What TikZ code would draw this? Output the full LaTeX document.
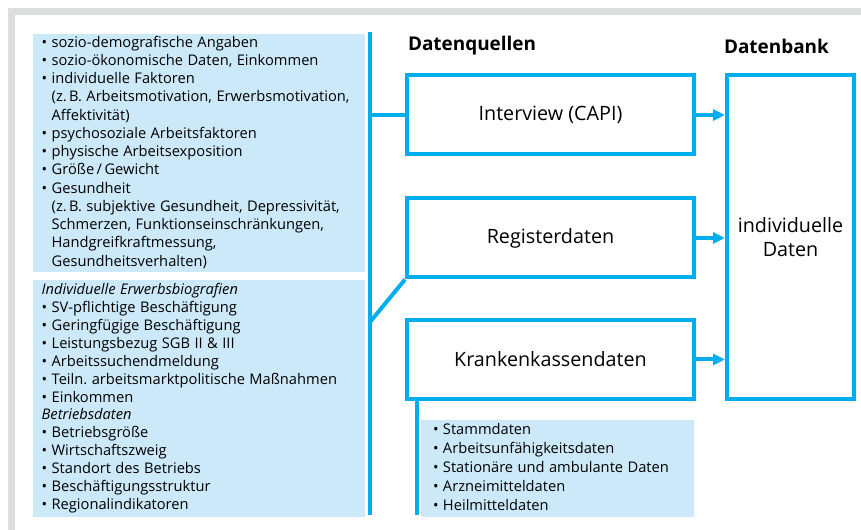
\documentclass[tikz,border=0pt]{standalone}
\usepackage{fontspec}
\setmainfont{Open Sans}
\usetikzlibrary{arrows.meta,positioning}

\definecolor{linkblue}{RGB}{0,174,239}
\definecolor{infoblue}{RGB}{204,233,250}
\definecolor{framegray}{RGB}{221,222,224}

\tikzset{every picture/.style={line width=3pt}}
\tikzset{
  infobox/.style={fill=infoblue, anchor=north west, inner ysep=0pt, align=left},
  sourcebox/.style={draw=linkblue, fill=white, minimum width=215.25pt, minimum height=59.25pt, inner sep=0pt, font=\fontsize{14.8}{18}\selectfont},
  heading/.style={anchor=west, inner sep=0pt, font=\fontsize{14.2}{17}\selectfont\bfseries},
  bus/.style={draw=linkblue, line cap=butt},
  feed/.style={draw=linkblue, -{Triangle[length=9pt,width=8.25pt]}}
}

\begin{document}
\begin{tikzpicture}[x=0.75pt,y=0.75pt,yscale=-1,xscale=1]
	\useasboundingbox (0,0) rectangle (861,530);
	
	%Shape: Frame
	\fill[framegray] (8,8) rectangle (861,15);
	\fill[framegray] (8,8) rectangle (15,530);
	
	% Info Box: Interview
	\node[infobox, minimum width=249pt, minimum height=178.5pt, inner xsep=6.5pt, text width=236pt] (questinfo) at (31,32)
	  {\fontsize{11}{13.7}\selectfont
	   \begin{tabular}{@{}p{7.5pt}@{}l@{}}
	   \textbullet & sozio-demografische Angaben\\
	   \textbullet & sozio-ökonomische Daten, Einkommen\\
	   \textbullet & individuelle Faktoren\\
	   & (z.\,B. Arbeitsmotivation, Erwerbsmotivation,\\
	   & Affektivität)\\
	   \textbullet & psychosoziale Arbeitsfaktoren\\
	   \textbullet & physische Arbeitsexposition\\
	   \textbullet & Größe\,/\,Gewicht\\
	   \textbullet & Gesundheit\\
	   & (z.\,B. subjektive Gesundheit, Depressivität,\\
	   & Schmerzen, Funktionseinschränkungen,\\
	   & Handgreifkraftmessung,\\
	   & Gesundheitsverhalten)
	   \end{tabular}};
	% Info Box: Register
	\node[infobox, minimum width=249pt, minimum height=177.75pt, inner xsep=6.5pt, text width=236pt] (reginfo) at (31,278)
	  {\fontsize{11}{13.43}\selectfont
	   \begin{tabular}{@{}p{7.5pt}@{}l@{}}
	   \multicolumn{2}{@{}l@{}}{\itshape Individuelle Erwerbsbiografien}\\
	   \textbullet & SV-pflichtige Beschäftigung\\
	   \textbullet & Geringfügige Beschäftigung\\
	   \textbullet & Leistungsbezug SGB II \& III\\
	   \textbullet & Arbeitssuchendmeldung\\
	   \textbullet & Teiln.\ arbeitsmarktpolitische Maßnahmen\\
	   \textbullet & Einkommen\\
	   \multicolumn{2}{@{}l@{}}{\itshape Betriebsdaten}\\
	   \textbullet & Betriebsgröße\\
	   \textbullet & Wirtschaftszweig\\
	   \textbullet & Standort des Betriebs\\
	   \textbullet & Beschäftigungsstruktur\\
	   \textbullet & Regionalindikatoren
	   \end{tabular}};
	% Info Box: Krankenkasse
	\node[infobox, minimum width=204.75pt, minimum height=72.75pt, inner xsep=9pt, text width=186.75pt] (kkinfo) at (419,418)
	  {\fontsize{11}{14.25}\selectfont
	   \begin{tabular}{@{}p{7.5pt}@{}l@{}}
	   \textbullet & Stammdaten\\
	   \textbullet & Arbeitsunfähigkeitsdaten\\
	   \textbullet & Stationäre und ambulante Daten\\
	   \textbullet & Arzneimitteldaten\\
	   \textbullet & Heilmitteldaten
	   \end{tabular}};
	
	% Text Node
	\node[heading] (quellenhead) at (406,46) {Datenquellen};
	% Text Node
	\node[heading] (bankhead) at (722,46) {Datenbank};
	
	%Shape: Rectangle
	\node[sourcebox] (interview) at (550.5,115) {Interview (CAPI)};
	%Shape: Rectangle
	\node[sourcebox] (register) at (550.5,238) {Registerdaten};
	%Shape: Rectangle
	\node[sourcebox] (kranken) at (550.5,359.5) {Krankenkassendaten};
	%Shape: Rectangle
	\node[sourcebox, minimum width=95.25pt, minimum height=243pt, align=center] (datenbank) at (790.5,237) {individuelle\\Daten};
	
	%Straight Lines
	\coordinate (bustop) at (370,32);
	\coordinate (busbot) at (370,515);
	\coordinate (busjoin) at (370,322);
	\coordinate (kkdrop) at (417,515);
	\draw[bus] (bustop) -- (busbot);
	\draw[bus] (interview.west) -- (interview.west -| bustop);
	\draw[bus] (register.south west) -- (busjoin);
	\draw[bus] (kkdrop |- kranken.south) -- (kkdrop);
	
	%Arrows
	\draw[feed] (interview.east) -- (interview.east -| datenbank.west);
	\draw[feed] (register.east) -- (register.east -| datenbank.west);
	\draw[feed] (kranken.east) -- (kranken.east -| datenbank.west);
	
\end{tikzpicture}
\end{document}
